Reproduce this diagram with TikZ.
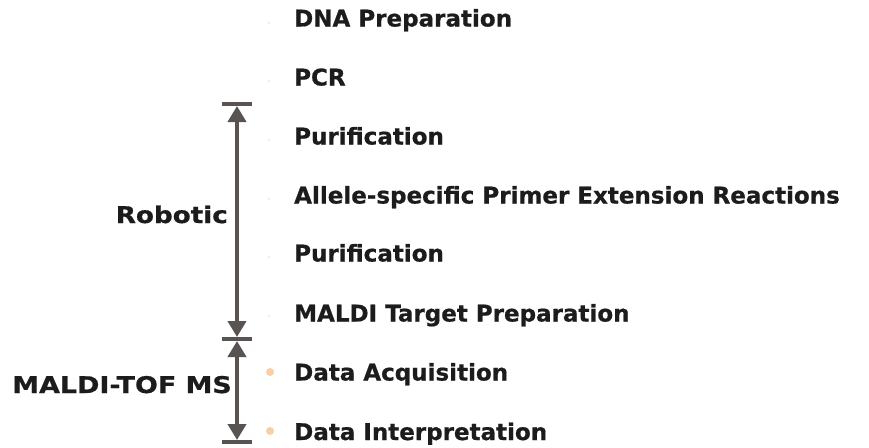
\documentclass[tikz,border=0pt]{standalone}
\usepackage{fontspec}
\setmainfont{DejaVu Sans}[BoldFeatures={FakeBold=0.7}]
\usetikzlibrary{arrows.meta}
\definecolor{txt}{HTML}{1C1C1C}
\definecolor{dimgray}{HTML}{595352}
\definecolor{paledot}{HTML}{EEF2E2}
\definecolor{peach}{HTML}{F9D0A4}
\tikzset{
  steptext/.style={anchor=base west, inner sep=0pt, font=\bfseries\fontsize{23}{27}\selectfont, text=txt},
  sidelabel/.style={anchor=base east, inner sep=0pt, font=\bfseries\fontsize{23}{27}\selectfont, text=txt},
  smalldot/.style={fill=paledot},
  bigdot/.style={fill=peach},
  dimline/.style={draw=dimgray, line width=4pt, {Triangle[width=18pt,length=16pt]}-{Triangle[width=18pt,length=16pt]}, shorten <=2pt, shorten >=2pt},
  barline/.style={draw=dimgray, line width=4pt}
}
\begin{document}
\begin{tikzpicture}[x=1pt,y=-1pt]
\useasboundingbox (0,0) rectangle (869,447);
% steps
\node[steptext] (s1) at (294,26.5) {DNA Preparation};
\node[steptext] (s2) at (294,85.5) {PCR};
\node[steptext] (s3) at (294,144.5) {Purification};
\node[steptext] (s4) at (294,203.5) {Allele-specific Primer Extension Reactions};
\node[steptext] (s5) at (294,261.5) {Purification};
\node[steptext] (s6) at (294,321.5) {MALDI Target Preparation};
\node[steptext] (s7) at (294,380.5) {Data Acquisition};
\node[steptext] (s8) at (294,440) {Data Interpretation};
% bullets
\fill[smalldot] (269,23) circle (1.7);
\fill[smalldot] (269,81) circle (1.7);
\fill[smalldot] (269,140) circle (1.7);
\fill[smalldot] (269,199) circle (1.7);
\fill[smalldot] (269,257) circle (1.7);
\fill[smalldot] (269,316) circle (1.7);
\fill[bigdot] (270,372) circle (4);
\fill[bigdot] (270,431) circle (4);
% dimension arrows
\coordinate (t1) at (237,104);
\coordinate (m1) at (237,339);
\coordinate (b1) at (237,442);
\draw[barline] ([xshift=-15pt]t1) -- ([xshift=15pt]t1);
\draw[barline] ([xshift=-15pt]m1) -- ([xshift=15pt]m1);
\draw[barline] ([xshift=-15pt]b1) -- ([xshift=15pt]b1);
\draw[dimline] (t1) -- (m1);
\draw[dimline] (m1) -- (b1);
% labels
\node[sidelabel] (robotic) at (228,223) {\scalebox{1.14}[1]{Robotic}};
\node[sidelabel] (maldi) at (232,393) {\scalebox{1.17}[1]{MALDI-TOF MS}};
\end{tikzpicture}
\end{document}
